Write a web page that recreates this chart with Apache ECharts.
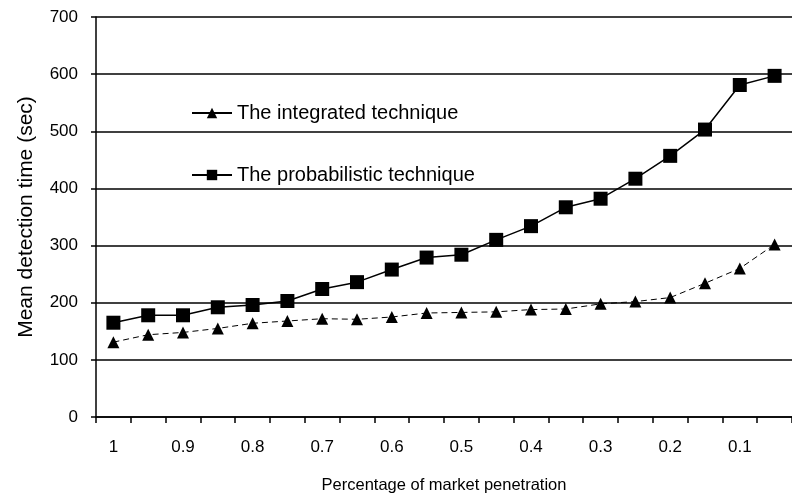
<!DOCTYPE html>
<html lang="en">
<head>
    <meta charset="UTF-8">
    <title>Mean detection time</title>
    <script src="https://cdn.jsdelivr.net/npm/echarts@6/dist/echarts.min.js"></script>
    <style>
        html, body { margin: 0; padding: 0; background: #fff; }
        #chart { width: 792px; height: 500px; }
    </style>
</head>
<body>
<div id="chart"></div>
<script type="text/javascript">
    // market penetration, from 1 down to 0.05
    var penetration = ['1', '0.95', '0.9', '0.85', '0.8', '0.75', '0.7', '0.65', '0.6', '0.55',
        '0.5', '0.45', '0.4', '0.35', '0.3', '0.25', '0.2', '0.15', '0.1', '0.05'];

    var integrated = [131, 144, 148, 155, 164, 168, 172, 171, 175, 182,
        183, 184, 188, 189, 198, 202, 209, 234, 260, 302];

    var probabilistic = [165, 178, 178, 192, 196, 203, 224, 236, 258, 279,
        284, 310, 334, 367, 382, 417, 457, 503, 581, 597];

    var yTicks = [0, 100, 200, 300, 400, 500, 600, 700];

    var font = 'Liberation Sans, Arial, sans-serif';

    var myChart = echarts.init(document.getElementById('chart'));

    myChart.setOption({
        animation: false,
        backgroundColor: '#fff',
        grid: { left: 96, right: -9, top: 17, bottom: 83, containLabel: false },
        legend: {
            orient: 'vertical',
            left: 186,
            top: 98,
            itemGap: 42,
            itemWidth: 40,
            itemHeight: 13,
            textStyle: { fontFamily: font, fontSize: 20, color: '#000' },
            data: [
                { name: 'The integrated technique', lineStyle: { type: 'solid' } },
                { name: 'The probabilistic technique' }
            ]
        },
        xAxis: {
            type: 'category',
            data: penetration,
            boundaryGap: true,
            name: 'Percentage of market penetration',
            nameLocation: 'middle',
            nameGap: 60,
            nameTextStyle: { fontFamily: font, fontSize: 16.5, color: '#000' },
            axisLine: { lineStyle: { color: '#000', width: 1.5 } },
            axisTick: { show: true, interval: 0, length: 6, lineStyle: { color: '#000', width: 1.5 } },
            axisLabel: {
                interval: 1,
                margin: 22,
                fontFamily: font,
                fontSize: 17,
                color: '#000'
            },
            splitLine: { show: false }
        },
        yAxis: {
            type: 'value',
            min: yTicks[0],
            max: yTicks[yTicks.length - 1],
            interval: 100,
            name: 'Mean detection time (sec)',
            nameLocation: 'middle',
            nameGap: 59,
            nameTextStyle: { fontFamily: font, fontSize: 21, color: '#000' },
            axisLine: { show: true, lineStyle: { color: '#000', width: 1.5 } },
            axisTick: { show: true, length: 5, lineStyle: { color: '#000', width: 1.5 } },
            axisLabel: { margin: 18, fontFamily: font, fontSize: 17, color: '#000' },
            splitLine: { show: true, lineStyle: { color: '#000', width: 1.5 } }
        },
        series: [
            {
                name: 'The integrated technique',
                type: 'line',
                data: integrated,
                symbol: 'triangle',
                symbolSize: 12,
                itemStyle: { color: '#000' },
                lineStyle: { color: '#000', width: 1, type: [6, 4] }
            },
            {
                name: 'The probabilistic technique',
                type: 'line',
                data: probabilistic,
                symbol: 'rect',
                symbolSize: 14,
                itemStyle: { color: '#000' },
                lineStyle: { color: '#000', width: 1.5 }
            }
        ]
    });
</script>
</body>
</html>
